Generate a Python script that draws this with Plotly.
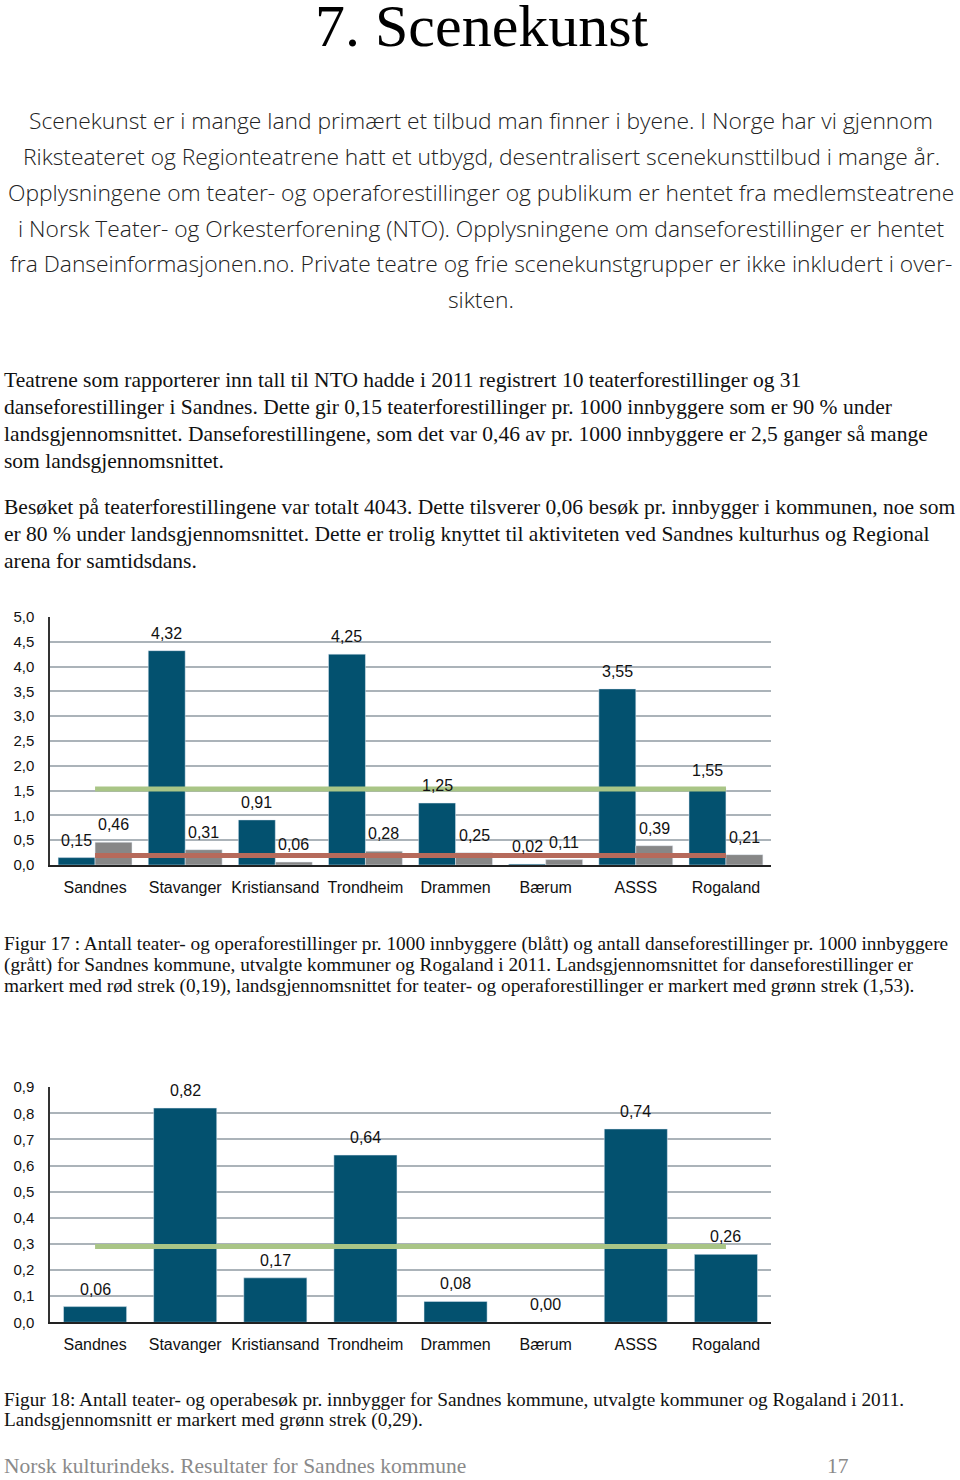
import plotly.graph_objects as go

W, H = 960, 1480

categories = ["Sandnes", "Stavanger", "Kristiansand", "Trondheim", "Drammen", "Bærum", "ASSS", "Rogaland"]
teater_forestillinger = [0.15, 4.32, 0.91, 4.25, 1.25, 0.02, 3.55, 1.55]
danse_forestillinger = [0.46, 0.31, 0.06, 0.28, 0.25, 0.11, 0.39, 0.21]
snitt_teater = 1.53
snitt_danse = 0.19

teater_besok = [0.06, 0.82, 0.17, 0.64, 0.08, 0.00, 0.74, 0.26]
snitt_besok = 0.29

y1_ticks = [0.0, 0.5, 1.0, 1.5, 2.0, 2.5, 3.0, 3.5, 4.0, 4.5, 5.0]
y2_ticks = [0.0, 0.1, 0.2, 0.3, 0.4, 0.5, 0.6, 0.7, 0.8, 0.9]

title_text = "7. Scenekunst"
intro_lines = [
    "Scenekunst er i mange land primært et tilbud man finner i byene. I Norge har vi gjennom",
    "Riksteateret og Regionteatrene hatt et utbygd, desentralisert scenekunsttilbud i mange år.",
    "Opplysningene om teater- og operaforestillinger og publikum er hentet fra medlemsteatrene",
    "i Norsk Teater- og Orkesterforening (NTO). Opplysningene om danseforestillinger er hentet",
    "fra Danseinformasjonen.no. Private teatre og frie scenekunstgrupper er ikke inkludert i over-",
    "sikten.",
]
body_lines = [
    "Teatrene som rapporterer inn tall til NTO hadde i 2011 registrert 10 teaterforestillinger og 31",
    "danseforestillinger i Sandnes. Dette gir 0,15 teaterforestillinger pr. 1000 innbyggere som er 90 % under",
    "landsgjennomsnittet. Danseforestillingene, som det var 0,46 av pr. 1000 innbyggere er 2,5 ganger så mange",
    "som landsgjennomsnittet.",
]
body2_lines = [
    "Besøket på teaterforestillingene var totalt 4043. Dette tilsverer 0,06 besøk pr. innbygger i kommunen, noe som",
    "er 80 % under landsgjennomsnittet. Dette er trolig knyttet til aktiviteten ved Sandnes kulturhus og Regional",
    "arena for samtidsdans.",
]
caption1_lines = [
    "Figur 17 : Antall teater- og operaforestillinger pr. 1000 innbyggere (blått) og antall danseforestillinger pr. 1000 innbyggere",
    "(grått) for Sandnes kommune, utvalgte kommuner og Rogaland i 2011. Landsgjennomsnittet for danseforestillinger er",
    "markert med rød strek (0,19), landsgjennomsnittet for teater- og operaforestillinger er markert med grønn strek (1,53).",
]
caption2_lines = [
    "Figur 18: Antall teater- og operabesøk pr. innbygger for Sandnes kommune, utvalgte kommuner og Rogaland i 2011.",
    "Landsgjennomsnitt er markert med grønn strek (0,29).",
]
footer_left = "Norsk kulturindeks. Resultater for Sandnes kommune"
footer_right = "17"

BLUE = "#03516F"
GREY = "#878787"
GREEN = "#A9C586"
RED = "#B66A5B"
GRID = "#ABB3B9"
SANS = "Liberation Sans, Arial, sans-serif"
SERIF = "Liberation Serif, Times New Roman, serif"

# observed page mapping: visual_y = 9.4 + 0.988 * figure_y
VY0, VYS = 9.4, 0.988


def px(x):
    return x / W


def fy(t):
    return (t - VY0) / VYS


def py(t):
    return 1 - fy(t) / H


fig = go.Figure()

# Chart 1
fig.add_trace(go.Bar(x=categories, y=teater_forestillinger, marker_color=BLUE,
                     xaxis="x", yaxis="y", showlegend=False, offsetgroup="a"))
fig.add_trace(go.Bar(x=categories, y=danse_forestillinger, marker_color=GREY,
                     xaxis="x", yaxis="y", showlegend=False, offsetgroup="b"))
fig.add_trace(go.Scatter(x=[categories[0], categories[-1]], y=[snitt_teater, snitt_teater],
                         mode="lines", line=dict(color=GREEN, width=5),
                         xaxis="x", yaxis="y", showlegend=False))
fig.add_trace(go.Scatter(x=[categories[0], categories[-1]], y=[snitt_danse, snitt_danse],
                         mode="lines", line=dict(color=RED, width=5),
                         xaxis="x", yaxis="y", showlegend=False))

# Chart 2
fig.add_trace(go.Bar(x=categories, y=teater_besok, marker_color=BLUE, width=0.7,
                     xaxis="x2", yaxis="y2", showlegend=False))
fig.add_trace(go.Scatter(x=[categories[0], categories[-1]], y=[snitt_besok, snitt_besok],
                         mode="lines", line=dict(color=GREEN, width=5),
                         xaxis="x2", yaxis="y2", showlegend=False))

tick_font = dict(family=SANS, size=15, color="#111")
cat_font = dict(family=SANS, size=16, color="#111")
BARGAP = 0.18

fig.update_layout(
    width=W, height=H,
    margin=dict(l=0, r=0, t=0, b=0),
    paper_bgcolor="white", plot_bgcolor="white",
    separators=", ",
    barmode="group", bargap=BARGAP, bargroupgap=0,
    xaxis=dict(domain=[px(50), px(771)], anchor="y", type="category",
               showline=True, linecolor="#222", linewidth=2, showgrid=False,
               tickfont=cat_font, ticks="", ticklabelstandoff=7),
    yaxis=dict(domain=[py(865), py(617)], anchor="x", range=[0, 5],
               tickvals=y1_ticks, tickformat=".1f",
               showline=True, linecolor="#333", linewidth=1.5,
               showgrid=True, gridcolor=GRID, gridwidth=2, zeroline=False,
               tickfont=tick_font, ticks="", ticklabelstandoff=11),
    xaxis2=dict(domain=[px(50), px(771)], anchor="y2", type="category",
                showline=True, linecolor="#222", linewidth=2, showgrid=False,
                tickfont=cat_font, ticks="", ticklabelstandoff=7),
    yaxis2=dict(domain=[py(1322), py(1087)], anchor="x2", range=[0, 0.9],
                tickvals=y2_ticks, tickformat=".1f",
                showline=True, linecolor="#333", linewidth=1.5,
                showgrid=True, gridcolor=GRID, gridwidth=2, zeroline=False,
                tickfont=tick_font, ticks="", ticklabelstandoff=11),
)

ann = []


def fmt(v):
    return f"{v:.2f}".replace(".", ",")


# value labels (bar data + bar geometry from bargap)
half = (1 - BARGAP) / 4
for i, v in enumerate(teater_forestillinger):
    ann.append(dict(x=i - half, y=v, xref="x", yref="y", text=fmt(v), showarrow=False,
                    yanchor="bottom", yshift=7, font=cat_font))
for i, v in enumerate(danse_forestillinger):
    ann.append(dict(x=i + half, y=v, xref="x", yref="y", text=fmt(v), showarrow=False,
                    yanchor="bottom", yshift=7, font=cat_font))
for i, v in enumerate(teater_besok):
    ann.append(dict(x=i, y=v, xref="x2", yref="y2", text=fmt(v), showarrow=False,
                    yanchor="bottom", yshift=7, font=cat_font))


def add_text(text, x, y, size, family, color="#111", xanchor="left", weight=None):
    f = dict(family=family, size=size, color=color)
    if weight:
        f["weight"] = weight
    ann.append(dict(text=text, x=px(x), y=py(y), xref="paper", yref="paper",
                    xanchor=xanchor, yanchor="middle", showarrow=False, font=f))


add_text(title_text, 482, 26, 60, SERIF, "#000", xanchor="center")

for i, line in enumerate(intro_lines):
    add_text(line, 481, 121 + i * 35.8, 22.8, "Open Sans, Noto Sans, sans-serif", "#222",
             xanchor="center", weight=300)

for i, line in enumerate(body_lines):
    add_text(line, 2, 380 + i * 27, 21.5, SERIF, "#111")
for i, line in enumerate(body2_lines):
    add_text(line, 2, 507 + i * 27, 21.5, SERIF, "#111")

for i, line in enumerate(caption1_lines):
    add_text(line, 2, 944 + i * 21, 19.3, SERIF, "#111")
for i, line in enumerate(caption2_lines):
    add_text(line, 2, 1399 + i * 21, 19.3, SERIF, "#111")

add_text(footer_left, 2, 1465.5, 21.5, SERIF, "#8A8A8A")
add_text(footer_right, 838, 1465.5, 21.5, SERIF, "#8A8A8A", xanchor="center")

fig.update_layout(annotations=ann)

fig.write_html("out.html", config={"displayModeBar": False},
               post_script="document.body.style.margin='0';document.body.style.overflow='hidden';")
